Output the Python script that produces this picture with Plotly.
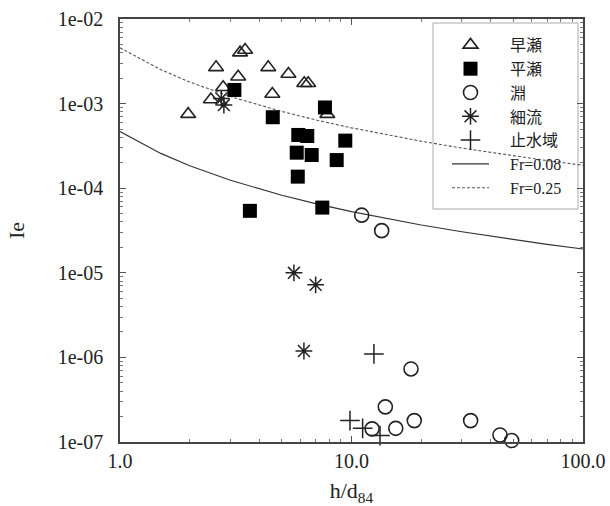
import plotly.graph_objects as go

# ---- data ----
hayase_x = [1.97, 2.47, 2.60, 2.79, 3.24, 3.30, 3.47, 4.37, 4.55, 5.34, 6.25, 6.50, 7.86]
hayase_y = [7.5e-4, 1.12e-3, 2.68e-3, 1.56e-3, 2.08e-3, 4.0e-3, 4.3e-3, 2.68e-3, 1.30e-3, 2.24e-3, 1.74e-3, 1.74e-3, 7.5e-4]

hirase_x = [3.12, 4.57, 7.68, 5.89, 6.44, 9.40, 5.80, 6.73, 8.63, 5.86, 3.64, 7.48]
hirase_y = [1.45e-3, 6.9e-4, 9.0e-4, 4.26e-4, 4.14e-4, 3.65e-4, 2.63e-4, 2.47e-4, 2.15e-4, 1.37e-4, 5.4e-5, 5.9e-5]

fuchi_x = [11.07, 13.5, 18.07, 14.0, 12.27, 15.53, 18.67, 32.7, 43.8, 49.2]
fuchi_y = [4.8e-5, 3.15e-5, 7.3e-7, 2.6e-7, 1.43e-7, 1.45e-7, 1.79e-7, 1.79e-7, 1.21e-7, 1.04e-7]

hosoryu_x = [2.81, 2.74, 5.64, 7.0, 6.23]
hosoryu_y = [9.6e-4, 1.15e-3, 1.0e-5, 7.2e-6, 1.19e-6]

shisui_x = [12.5, 9.85, 11.17, 13.28]
shisui_y = [1.10e-6, 1.79e-7, 1.45e-7, 1.19e-7]

curve_x = [1, 1.5, 2, 3, 5, 7, 10, 15, 20, 30, 50, 70, 100]
fr008_y = [4.67e-4, 2.58e-4, 1.84e-4, 1.24e-4, 8.27e-5, 6.57e-5, 5.29e-5, 4.24e-5, 3.67e-5, 3.05e-5, 2.47e-5, 2.17e-5, 1.91e-5]
fr025_y = [4.57e-3, 2.52e-3, 1.80e-3, 1.21e-3, 8.07e-4, 6.42e-4, 5.17e-4, 4.14e-4, 3.59e-4, 2.98e-4, 2.41e-4, 2.12e-4, 1.87e-4]

x_tickvals = [1, 10, 100]
x_ticktext = ["1.0", "10.0", "100.0"]
y_tickvals = [1e-7, 1e-6, 1e-5, 1e-4, 1e-3, 1e-2]
y_ticktext = ["1e-07", "1e-06", "1e-05", "1e-04", "1e-03", "1e-02"]

SERIF = "Liberation Serif"
MIX = "Liberation Serif, Noto Sans CJK JP"
INK = "#222222"
PAD = "\u00a0" * 4  # gap between legend symbol and label

fig = go.Figure()

fig.add_trace(go.Scatter(x=curve_x, y=fr008_y, mode="lines", name=PAD + "Fr=0.08",
                         line=dict(color="#333333", width=1.1), legendrank=6))
fig.add_trace(go.Scatter(x=curve_x, y=fr025_y, mode="lines", name=PAD + "Fr=0.25",
                         line=dict(color="#555555", width=1.1, dash="3px,2px"), legendrank=7))

fig.add_trace(go.Scatter(x=hayase_x, y=hayase_y, mode="markers", name=PAD + "早瀬", legendrank=1,
                         marker=dict(symbol="triangle-up-open", size=13, color=INK, line=dict(width=1.6)),
                         cliponaxis=False))
fig.add_trace(go.Scatter(x=hirase_x, y=hirase_y, mode="markers", name=PAD + "平瀬", legendrank=2,
                         marker=dict(symbol="square", size=14, color="#000000"), cliponaxis=False))
fig.add_trace(go.Scatter(x=fuchi_x, y=fuchi_y, mode="markers", name=PAD + "淵", legendrank=3,
                         marker=dict(symbol="circle-open", size=14, color=INK, line=dict(width=1.6)),
                         cliponaxis=False))
fig.add_trace(go.Scatter(x=hosoryu_x, y=hosoryu_y, mode="markers", name=PAD + "細流", legendrank=4,
                         marker=dict(symbol="asterisk-open", size=14, color=INK, line=dict(width=1.5)),
                         cliponaxis=False))
fig.add_trace(go.Scatter(x=shisui_x, y=shisui_y, mode="markers", name=PAD + "止水域", legendrank=5,
                         marker=dict(symbol="cross-thin-open", size=14, color=INK, line=dict(width=1.5)),
                         cliponaxis=False))

axis_common = dict(
    type="log", showgrid=False, zeroline=False,
    showline=True, linecolor="#444444", linewidth=1.5, mirror="allticks",
    ticks="inside", ticklen=6, tickcolor="#555555", tickwidth=1,
    tickfont=dict(family=SERIF, size=20, color="#222222"),
    tickmode="array",
    minor=dict(ticks="inside", ticklen=3, tickcolor="#777777", dtick="D1"),
)

fig.update_xaxes(**axis_common, range=[0, 2], tickvals=x_tickvals, ticktext=x_ticktext,
                 ticklabelstandoff=0,
                 title=dict(text="h/d<sub>84</sub>", font=dict(family=SERIF, size=22, color="#222222"),
                            standoff=26))
fig.update_yaxes(**axis_common, range=[-7, -2], tickvals=y_tickvals, ticktext=y_ticktext,
                 ticklabelstandoff=11,
                 title=dict(text="Ie", font=dict(family=SERIF, size=22, color="#222222"),
                            standoff=27))

# legend frame
fig.add_shape(type="rect", xref="paper", yref="paper",
              x0=(433 - 120) / 463, x1=(578 - 120) / 463,
              y0=(442 - 209) / 423, y1=(442 - 23) / 423,
              line=dict(color="#aaaaaa", width=1), fillcolor="white", layer="below")

fig.update_layout(
    width=610, height=506,
    margin=dict(l=120, r=27, t=19, b=64, autoexpand=False),
    paper_bgcolor="white", plot_bgcolor="white",
    showlegend=True,
    legend=dict(x=(447 - 120) / 463, y=(442 - 28) / 423, xanchor="left", yanchor="top",
                bgcolor="rgba(0,0,0,0)", borderwidth=0,
                font=dict(family=MIX, size=16, color="#222222"),
                itemwidth=37, tracegroupgap=0),
)

fig.write_html("out.html", config={"displayModeBar": False},
               post_script="document.body.style.margin='0px';document.body.style.overflow='hidden';")
